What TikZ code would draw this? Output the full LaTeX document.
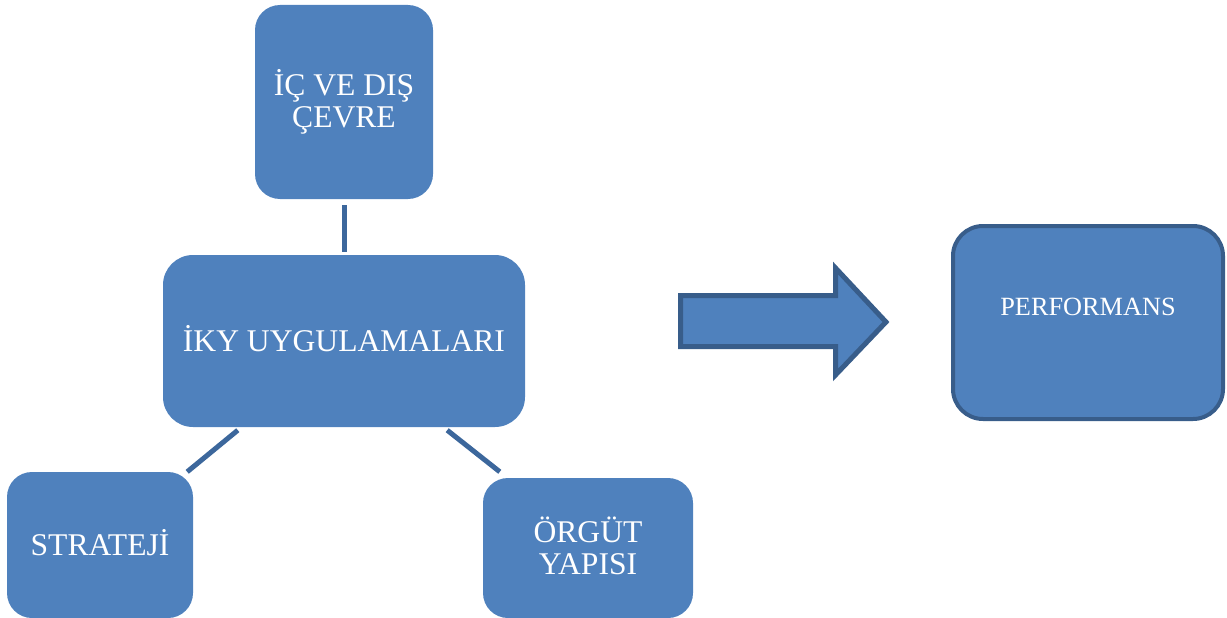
\documentclass[tikz,border=0pt]{standalone}
\usepackage{fontspec}
\setmainfont{Liberation Serif}
\definecolor{boxfill}{HTML}{4F81BD}
\definecolor{boxline}{HTML}{385D8A}
\definecolor{connline}{HTML}{3C679C}
\begin{document}
\begin{tikzpicture}[x=1pt,y=-1pt,
  bluebox/.style={rectangle, rounded corners=25pt, fill=boxfill, draw=none,
    inner sep=0pt, text=white, align=center,
    font=\fontsize{31.6}{32.5}\selectfont},
  perfbox/.style={rectangle, rounded corners=30pt, fill=boxfill, draw=boxline,
    line width=4pt, inner sep=0pt, minimum width=270pt, minimum height=193pt},
  perftext/.style={text=white, inner sep=0pt, font=\fontsize{26.3}{28}\selectfont},
  conn/.style={draw=connline, line width=5pt},
  bigarrow/.style={fill=boxfill, draw=boxline, line width=5pt, line join=miter}
]
\useasboundingbox (0,0) rectangle (1227,618);

\node[bluebox, minimum width=178pt, minimum height=194pt] (cevre) at (344,102) {İÇ VE DIŞ\\ÇEVRE};
\node[bluebox, minimum width=362pt, minimum height=172pt, rounded corners=30pt] (iky) at (344,341) {};
\node[bluebox] (ikyt) at (344,339) {İKY UYGULAMALARI};
\node[bluebox, minimum width=186pt, minimum height=146pt] (str) at (100,545) {};
\node[bluebox] (strt) at (100,543) {STRATEJİ};
\node[bluebox, minimum width=210pt, minimum height=140pt] (org) at (588,548) {};
\node[bluebox] (orgt) at (588,546) {ÖRGÜT\\YAPISI};
\node[perfbox] (perf) at (1088,322.5) {};
\node[perftext] (perft) at (1088,307) {PERFORMANS};

\draw[conn, shorten <=6pt, shorten >=3pt] (cevre.south) -- (iky.north);
\draw[conn] ([xshift=75pt,yshift=-3pt]iky.south west) -- ([xshift=-6pt]str.north east);
\draw[conn] ([xshift=-78pt,yshift=-3pt]iky.south east) -- ([xshift=17pt,yshift=6pt]org.north west);

\draw[bigarrow] (680.5,295.5) -- (835.5,295.5) -- (835.5,268) -- (886,322)
  -- (835.5,375) -- (835.5,346.5) -- (680.5,346.5) -- cycle;
\end{tikzpicture}
\end{document}
